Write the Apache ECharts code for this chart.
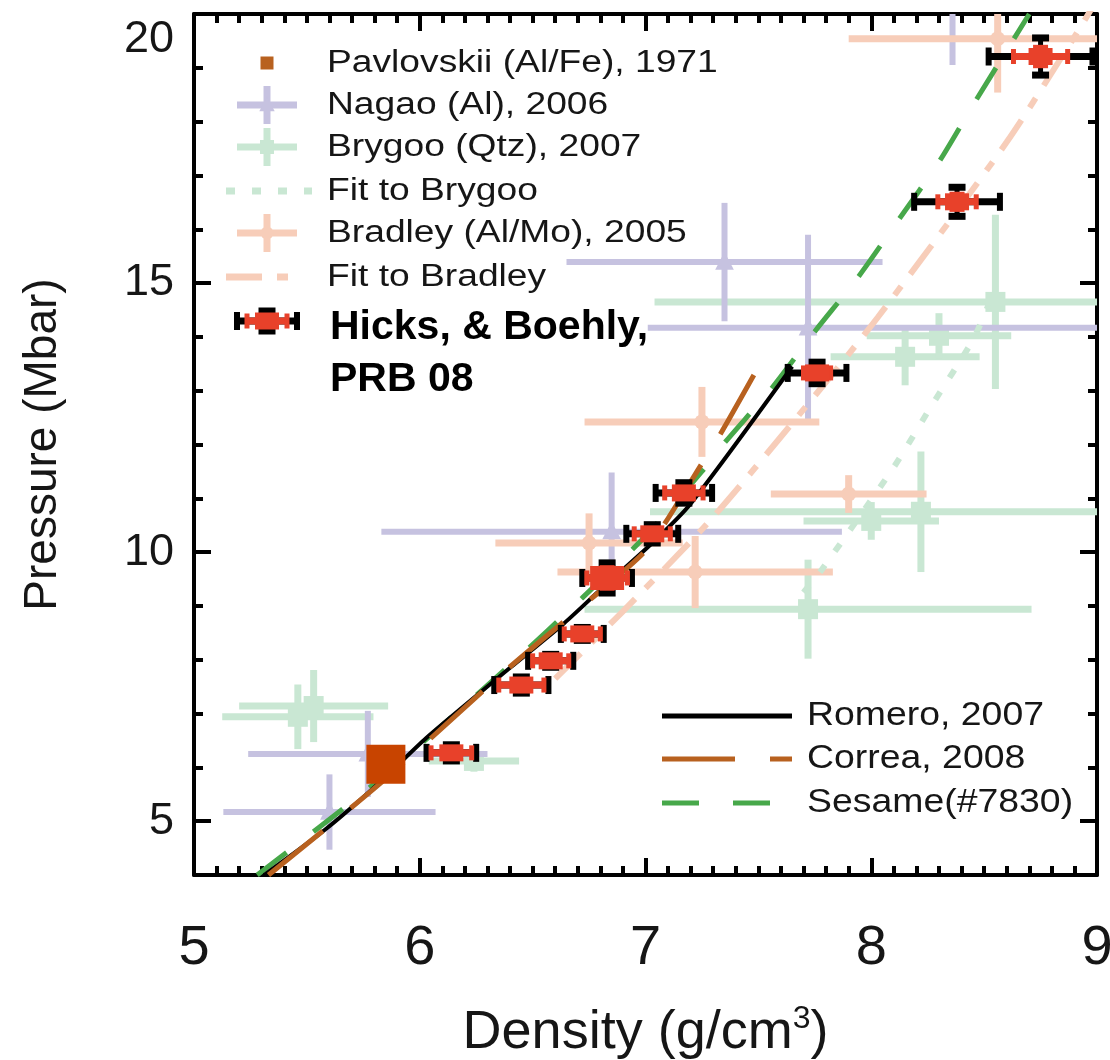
<!DOCTYPE html>
<html>
<head>
<meta charset="utf-8">
<script src="https://cdn.jsdelivr.net/npm/echarts@6/dist/echarts.min.js"></script>
<style>
html, body { margin: 0; padding: 0; background: #fff; }
#chart { width: 1110px; height: 1060px; }
</style>
</head>
<body>
<div id="chart"></div>
<script>
// density (g/cm3) on x, pressure (Mbar) on y

// Hicks, & Boehly, PRB 08 (red marker, black + red error bars)
const hicksX = [6.14, 6.45, 6.58, 6.72, 6.83, 7.03, 7.17, 7.76, 8.38, 8.75]
const hicksY = [6.27, 7.53, 7.98, 8.48, 9.52, 10.34, 11.10, 13.33, 16.51, 19.21]
const hicksDxBlack = [0.11, 0.12, 0.10, 0.095, 0.11, 0.115, 0.125, 0.13, 0.19, 0.23]
const hicksDxRed = [0.09, 0.10, 0.08, 0.08, 0.09, 0.08, 0.085, 0.06, 0.085, 0.12]
const hicksDyBlack = [0.15, 0.15, 0.12, 0.12, 0.28, 0.17, 0.19, 0.20, 0.27, 0.345]
const hicksDyRed = [0.08, 0.08, 0.07, 0.07, 0.20, 0.10, 0.10, 0.10, 0.15, 0.18]

// Pavlovskii (Al/Fe), 1971
const pavX = [5.85]
const pavY = [6.06]

// Nagao (Al), 2006
const nagaoX = [5.60, 5.77, 6.85, 7.72, 7.35, 8.36]
const nagaoY = [5.17, 6.25, 10.38, 14.17, 15.39, 20.30]
const nagaoDxLo = [0.47, 0.53, 1.02, 0.71, 0.70, 0.50]
const nagaoDxHi = [0.47, 0.53, 1.02, 1.40, 0.70, 0.50]
const nagaoDy = [0.70, 0.80, 1.10, 1.73, 1.10, 1.25]

// Brygoo (Qtz), 2007
const brygooX = [5.46, 5.53, 6.24, 7.72, 8.00, 8.22, 8.15, 8.30, 8.55]
const brygooY = [6.94, 7.14, 6.12, 8.94, 10.58, 10.75, 13.63, 14.02, 14.65]
const brygooDx = [0.335, 0.33, 0.20, 0.99, 0.30, 1.20, 0.33, 0.32, 1.51]
const brygooDy = [0.60, 0.67, 0.20, 0.92, 0.35, 1.12, 0.53, 0.42, 1.62]

// Bradley (Al/Mo), 2005
const bradleyX = [6.75, 7.22, 7.25, 7.90, 8.56]
const bradleyY = [10.17, 9.63, 12.42, 11.08, 19.54]
const bradleyDx = [0.415, 0.61, 0.52, 0.345, 0.66]
const bradleyDy = [0.55, 0.67, 0.65, 0.35, 1.00]

// fits and models
const fitBrygooX = [7.70, 7.78, 8.10, 8.27, 8.45, 8.52]
const fitBrygooY = [9.25, 9.67, 11.58, 12.74, 13.94, 14.60]
const fitBradleyX = [6.60, 6.90, 7.28, 7.68, 8.03, 8.60, 8.92, 8.99]
const fitBradleyY = [7.65, 8.90, 10.56, 12.55, 14.37, 17.62, 19.71, 20.20]
const romeroX = [5.31, 5.58, 5.82, 6.03, 6.40, 6.64, 6.80, 7.03, 7.20, 7.65]
const romeroY = [4.00, 4.84, 5.71, 6.55, 7.85, 8.68, 9.30, 10.17, 10.90, 13.45]
const correaX = [5.33, 5.83, 6.40, 6.75, 6.99, 7.09, 7.24, 7.33, 7.48]
const correaY = [4.00, 5.72, 7.87, 9.10, 9.98, 10.56, 11.58, 12.18, 13.29]
const sesameX = [5.28, 5.80, 6.40, 6.72, 7.00, 7.25, 7.35, 7.56, 7.75, 7.94, 8.12, 8.30, 8.46, 8.70]
const sesameY = [4.00, 5.70, 7.90, 9.15, 10.30, 11.50, 12.03, 13.05, 14.10, 15.10, 16.17, 17.25, 18.37, 20.00]

// axis ticks
const yTickLabels = [5, 10, 15, 20]
const yMinorTicks = [4, 6, 7, 8, 9, 11, 12, 13, 14, 16, 17, 18, 19]

const FONT = '"Liberation Sans", Arial, Helvetica, sans-serif'
const INK = '#161616'
const C_NAGAO = '#c6c2e0'
const C_BRYGOO = '#c9e7d3'
const C_BRADLEY = '#f7cdb9'
const C_RED = '#e8412a'
const C_BROWN = '#b8611f'
const C_GREEN = '#47a84a'

const chart = echarts.init(document.getElementById('chart'))

function pairs (xs, ys) {
    return xs.map((x, i) => [x, ys[i]])
}

function rectC (cx, cy, w, h, fill) {
    return { type: 'rect', shape: { x: cx - w / 2, y: cy - h / 2, width: w, height: h }, style: { fill: fill } }
}

function markerShape (kind, cx, cy, size, fill) {
    if (kind === 'triangle') {
        return { type: 'polygon', shape: { points: [[cx, cy - size * 0.6], [cx + size * 0.55, cy + size * 0.45], [cx - size * 0.55, cy + size * 0.45]] }, style: { fill: fill } }
    }
    if (kind === 'circle') {
        return { type: 'circle', shape: { cx: cx, cy: cy, r: size / 2 }, style: { fill: fill } }
    }
    return rectC(cx, cy, size, size, fill)
}

// light error-bar crosses: value = [x, y, dxLo, dxHi, dy]
function crossRenderer (color, barW, marker, size) {
    return function (params, api) {
        const x = api.value(0)
        const y = api.value(1)
        const c = api.coord([x, y])
        const x0 = api.coord([x - api.value(2), y])[0]
        const x1 = api.coord([x + api.value(3), y])[0]
        const y0 = api.coord([x, y + api.value(4)])[1]
        const y1 = api.coord([x, y - api.value(4)])[1]
        return {
            type: 'group',
            children: [
                { type: 'rect', shape: { x: x0, y: c[1] - barW / 2, width: x1 - x0, height: barW }, style: { fill: color } },
                { type: 'rect', shape: { x: c[0] - barW / 2, y: y0, width: barW, height: y1 - y0 }, style: { fill: color } },
                markerShape(marker, c[0], c[1], size, color)
            ]
        }
    }
}

// Hicks points: value = [x, y, dxBlack, dxRed, dyBlack, dyRed]
function renderHicks (params, api) {
    const x = api.value(0)
    const y = api.value(1)
    const c = api.coord([x, y])
    const xb0 = api.coord([x - api.value(2), y])[0]
    const xb1 = api.coord([x + api.value(2), y])[0]
    const xr0 = api.coord([x - api.value(3), y])[0]
    const xr1 = api.coord([x + api.value(3), y])[0]
    const yb0 = api.coord([x, y + api.value(4)])[1]
    const yb1 = api.coord([x, y - api.value(4)])[1]
    const yr0 = api.coord([x, y + api.value(5)])[1]
    const yr1 = api.coord([x, y - api.value(5)])[1]
    const big = params.dataIndex === 4
    const bw = big ? 34 : 24
    const bh = big ? 24 : 17
    return {
        type: 'group',
        children: [
            { type: 'rect', shape: { x: xb0, y: c[1] - 3.5, width: xb1 - xb0, height: 7 }, style: { fill: '#000' } },
            rectC(xb0, c[1], 6, 18, '#000'),
            rectC(xb1, c[1], 6, 18, '#000'),
            { type: 'rect', shape: { x: c[0] - 2.5, y: yb0, width: 5, height: yb1 - yb0 }, style: { fill: '#000' } },
            rectC(c[0], yb0, 17, 7, '#000'),
            rectC(c[0], yb1, 17, 7, '#000'),
            { type: 'rect', shape: { x: xr0, y: c[1] - 3.5, width: xr1 - xr0, height: 7 }, style: { fill: C_RED } },
            rectC(xr0, c[1], 5, 15, C_RED),
            rectC(xr1, c[1], 5, 15, C_RED),
            rectC(c[0], yr0, 15, 4, C_RED),
            rectC(c[0], yr1, 15, 4, C_RED),
            rectC(c[0], c[1], bw, bh, C_RED)
        ]
    }
}

const nagaoData = nagaoX.map((x, i) => [x, nagaoY[i], nagaoDxLo[i], nagaoDxHi[i], nagaoDy[i]])
const brygooData = brygooX.map((x, i) => [x, brygooY[i], brygooDx[i], brygooDx[i], brygooDy[i]])
const bradleyData = bradleyX.map((x, i) => [x, bradleyY[i], bradleyDx[i], bradleyDx[i], bradleyDy[i]])
const hicksData = hicksX.map((x, i) => [x, hicksY[i], hicksDxBlack[i], hicksDxRed[i], hicksDyBlack[i], hicksDyRed[i]])

function lineSeries (name, data, color, width, type, z) {
    return {
        name: name,
        type: 'line',
        data: data,
        showSymbol: false,
        symbol: 'none',
        smooth: 0.25,
        z: z,
        lineStyle: { color: color, width: width, type: type, cap: 'butt' }
    }
}

// ---------- legend drawn with graphic elements ----------
const LX = 267
const legendGraphics = []

function legendText (txt, x, y, size, scaleX, bold) {
    legendGraphics.push({
        type: 'text', x: x, y: y, scaleX: scaleX,
        style: { text: txt, fontSize: size, fontFamily: FONT, fontWeight: bold ? 'bold' : 'normal', fill: bold ? '#000' : INK, verticalAlign: 'middle', align: 'left' }
    })
}
function legendCross (cy, color, marker, size) {
    legendGraphics.push(rectC(LX, cy, 60, 7, color))
    legendGraphics.push(rectC(LX, cy, 7, 38, color))
    legendGraphics.push(markerShape(marker, LX, cy, size, color))
}
function legendLine (x0, x1, y, color, width, dash) {
    legendGraphics.push({ type: 'line', shape: { x1: x0, y1: y, x2: x1, y2: y }, style: { stroke: color, lineWidth: width, lineDash: dash, lineCap: 'butt' } })
}

const TS = 31
const TSX = 1.2
legendGraphics.push(rectC(LX, 63, 13, 13, C_BROWN))
legendText('Pavlovskii (Al/Fe), 1971', 327, 63, TS, TSX)
legendCross(105, C_NAGAO, 'triangle', 14)
legendText('Nagao (Al), 2006', 327, 105, TS, TSX)
legendCross(147, C_BRYGOO, 'rect', 14)
legendText('Brygoo (Qtz), 2007', 327, 147, TS, TSX)
legendLine(226, 312, 191, C_BRYGOO, 7, [9, 17])
legendText('Fit to Brygoo', 327, 191, TS, TSX)
legendCross(233, C_BRADLEY, 'circle', 13)
legendText('Bradley (Al/Mo), 2005', 327, 233, TS, TSX)
legendLine(226, 290, 277, C_BRADLEY, 7, [36, 15, 11, 100])
legendText('Fit to Bradley', 327, 277, TS, TSX)
// Hicks legend marker
legendGraphics.push(rectC(LX, 321, 60, 7, '#000'))
legendGraphics.push(rectC(LX - 30, 321, 6, 18, '#000'))
legendGraphics.push(rectC(LX + 30, 321, 6, 18, '#000'))
legendGraphics.push(rectC(LX, 311, 17, 7, '#000'))
legendGraphics.push(rectC(LX, 331, 17, 7, '#000'))
legendGraphics.push(rectC(LX, 321, 42, 7, C_RED))
legendGraphics.push(rectC(LX - 20, 321, 5, 15, C_RED))
legendGraphics.push(rectC(LX + 20, 321, 5, 15, C_RED))
legendGraphics.push(rectC(LX, 321, 24, 17, C_RED))
legendText('Hicks, & Boehly,', 330, 328, 41, 1, true)
legendText('PRB 08', 330, 380, 41, 1, true)

// lower-right legend
legendLine(662, 792, 716, '#000', 5, null)
legendText('Romero, 2007', 807, 716, 34, 1.1)
legendLine(662, 792, 759, C_BROWN, 5, [73, 35])
legendText('Correa, 2008', 807, 759, 34, 1.1)
legendLine(662, 792, 803, C_GREEN, 5, [37, 34])
legendText('Sesame(#7830)', 807, 803, 34, 1.1)

// ---------- axes ----------
const axisLineStyle = { color: '#000', width: 4 }
function xAxisDef (pos, withLabels) {
    return {
        type: 'value', min: 5, max: 9, interval: 1, position: pos,
        axisLine: { show: true, onZero: false, lineStyle: axisLineStyle },
        axisTick: { show: true, inside: true, length: 17, lineStyle: { color: '#000', width: 4 } },
        minorTick: { show: true, splitNumber: 10, length: 9, lineStyle: { color: '#000', width: 4 } },
        splitLine: { show: false },
        minorSplitLine: { show: false },
        axisLabel: { show: withLabels, fontSize: 56, fontFamily: FONT, color: INK, margin: 46 },
        name: withLabels ? '{a|Density (g/cm}{s|3}{a|)}' : '',
        nameLocation: 'middle',
        nameGap: 128,
        nameTextStyle: {
            rich: {
                a: { fontSize: 54, fontFamily: FONT, color: INK, lineHeight: 60 },
                s: { fontSize: 32, fontFamily: FONT, color: INK, lineHeight: 60, verticalAlign: 'top' }
            }
        }
    }
}
function yAxisMajor (pos, withLabels) {
    return {
        type: 'value', min: 4, max: 20, position: pos,
        axisLine: { show: true, onZero: false, lineStyle: axisLineStyle },
        axisTick: { show: true, inside: true, length: 17, customValues: yTickLabels, lineStyle: { color: '#000', width: 4 } },
        splitLine: { show: false },
        axisLabel: {
            show: withLabels,
            customValues: yTickLabels,
            fontSize: 45, fontFamily: FONT, color: INK, margin: 20,
            formatter: v => (v === 20 ? '{top|20}' : String(v)),
            rich: { top: { fontSize: 45, fontFamily: FONT, color: INK, padding: [52, 0, 0, 0] } }
        },
        name: withLabels ? 'Pressure (Mbar)' : '',
        nameLocation: 'middle',
        nameRotate: 90,
        nameGap: 128,
        nameTextStyle: { fontSize: 46, fontFamily: FONT, color: INK }
    }
}
function yAxisMinor (pos) {
    return {
        type: 'value', min: 4, max: 20, position: pos,
        axisLine: { show: false, onZero: false },
        axisTick: { show: true, inside: true, length: 9, customValues: yMinorTicks, lineStyle: { color: '#000', width: 4 } },
        splitLine: { show: false },
        axisLabel: { show: false }
    }
}

const option = {
    animation: false,
    backgroundColor: '#fff',
    grid: { left: 194, right: 13, top: 14, bottom: 185, containLabel: false, outerBoundsMode: 'none' },
    xAxis: [xAxisDef('bottom', true), xAxisDef('top', false)],
    yAxis: [yAxisMajor('left', true), yAxisMinor('left'), yAxisMajor('right', false), yAxisMinor('right')],
    graphic: legendGraphics,
    series: [
        { name: 'Brygoo (Qtz), 2007', type: 'custom', clip: true, z: 1, data: brygooData, renderItem: crossRenderer(C_BRYGOO, 7, 'rect', 20) },
        { name: 'Nagao (Al), 2006', type: 'custom', clip: true, z: 1, data: nagaoData, renderItem: crossRenderer(C_NAGAO, 6, 'triangle', 17) },
        { name: 'Bradley (Al/Mo), 2005', type: 'custom', clip: true, z: 1, data: bradleyData, renderItem: crossRenderer(C_BRADLEY, 7, 'circle', 15) },
        lineSeries('Fit to Brygoo', pairs(fitBrygooX, fitBrygooY), C_BRYGOO, 6, [9, 17], 2),
        lineSeries('Fit to Bradley', pairs(fitBradleyX, fitBradleyY), C_BRADLEY, 6, [36, 15, 11, 15], 2),
        lineSeries('Sesame(#7830)', pairs(sesameX, sesameY), C_GREEN, 5, [37, 34], 3),
        lineSeries('Romero, 2007', pairs(romeroX, romeroY), '#000', 4, 'solid', 3),
        lineSeries('Correa, 2008', pairs(correaX, correaY), C_BROWN, 5, [70, 36], 3),
        {
            name: 'Pavlovskii (Al/Fe), 1971', type: 'scatter', z: 4,
            data: pairs(pavX, pavY), symbol: 'rect', symbolSize: 39,
            itemStyle: { color: '#c84400', opacity: 1 }
        },
        { name: 'Hicks, & Boehly, PRB 08', type: 'custom', clip: true, z: 5, data: hicksData, renderItem: renderHicks }
    ]
}

chart.setOption(option)
</script>
</body>
</html>
